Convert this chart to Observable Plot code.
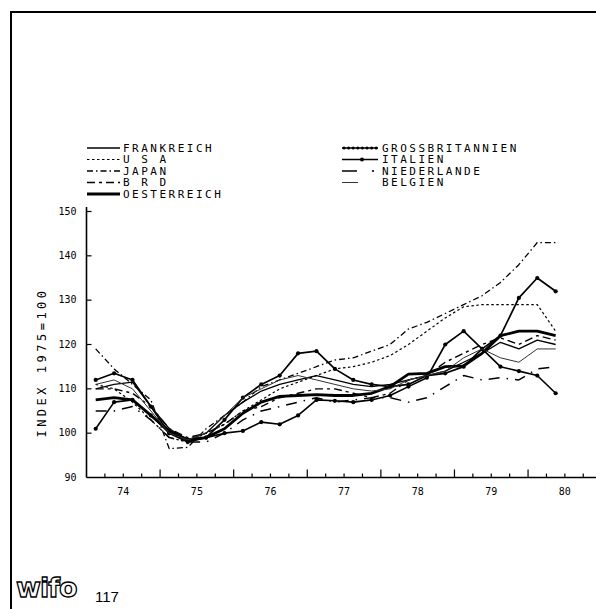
<!DOCTYPE html>
<html><head><meta charset="utf-8">
<script src="https://cdn.jsdelivr.net/npm/d3@7"></script>
<script src="https://cdn.jsdelivr.net/npm/@observablehq/plot@0.6"></script>
<style>
html,body{margin:0;padding:0;background:#fff;}
#wrap{position:relative;width:596px;height:609px;overflow:hidden;font-family:"DejaVu Sans Mono",monospace;}
#frame{position:absolute;left:10px;top:11px;width:620px;height:640px;border-top:2px solid #000;border-left:2px solid #000;box-sizing:border-box;}
#chart,#legend{position:absolute;left:0;top:0;}
#logo{position:absolute;left:16px;top:574px;font-family:"DejaVu Sans",sans-serif;font-weight:bold;font-size:27px;color:#fff;-webkit-text-stroke:1.3px #000;letter-spacing:-1px;line-height:1;}
#page{position:absolute;left:95px;top:589px;font-family:"Liberation Sans",sans-serif;font-size:15px;line-height:1;}
</style></head>
<body><div id="wrap"><div id="frame"></div><div id="chart"></div><svg id="legend" width="596" height="609"></svg><div id="logo">wifo</div><div id="page">117</div></div>
<script>
// ---- data (quarterly, index 1975=100) ----
const quarters = ["1974Q1","1974Q2","1974Q3","1974Q4","1975Q1","1975Q2","1975Q3","1975Q4",
  "1976Q1","1976Q2","1976Q3","1976Q4","1977Q1","1977Q2","1977Q3","1977Q4",
  "1978Q1","1978Q2","1978Q3","1978Q4","1979Q1","1979Q2","1979Q3","1979Q4","1980Q1","1980Q2"];
const frankreich      = [110,111,111.5,106,101,98.5,100,104,107,109.5,111,112,113,112,111,110.5,111,112,113,114,116,118,120.5,119,121,120];
const usa             = [111,110,107,103,99,98,100,102,105,107.5,110,111.5,113,114.5,115,116,117.5,120,123,126,128.5,129,129,129,129,123];
const japan           = [119,114.5,111,107.5,96.5,96.8,101,104,107,110.5,112,113.5,115,116.5,117,118.5,120,123.5,125,127,129,131,134,138,143,143];
const brd             = [110,110,109,106,101,99,100,102,105,106,108,109,110,110,109,108,109,112,113,116,118,120,121.5,120,122,121];
const oesterreich     = [107.5,108,107.5,104,100.5,98.5,99,101,104.5,107,108.3,108.5,108.7,108.5,108.5,109,110.5,113.3,113.5,115,115.2,118,122,123,123,122];
const grossbritannien = [101,107,107.5,104,100,98.5,99,100,100.5,102.5,102,104,107.5,107.3,107,107.5,108.5,110.5,112.5,120,123,119,115,114,113,109];
const italien         = [112,113.5,112,106,100,98,99,103,108,111,113,118,118.5,114.5,112,111,110.5,111,113,113.5,115,119,122,130.5,135,132];
const niederlande     = [105,105,106,103,99,98,98,100,103,105,106,107,108,107,107.5,108,108,107,108,110.5,113,112,112.5,112,114.5,115];
const belgien         = [111,112,110,105,100,98.5,100,104,108,110,112,113,112,111,110,109.5,110,112,113,114,117,119,117,116,119,119];

const seriesNames = ["FRANKREICH","U S A","JAPAN","B R D","OESTERREICH","GROSSBRITANNIEN","ITALIEN","NIEDERLANDE","BELGIEN"];
const seriesValues = [frankreich,usa,japan,brd,oesterreich,grossbritannien,italien,niederlande,belgien];
const yTicks = [90,100,110,120,130,140,150];
const yearLabels = ["74","75","76","77","78","79","80"];
const years = [1974,1975,1976,1977,1978,1979,1980];

// ---- styles ----
const styles = [
  {w:1.3, dash:null},
  {w:1.2, dash:"2.5,2.5"},
  {w:1.3, dash:"6,3,1.5,3"},
  {w:1.4, dash:"8,4,3,4"},
  {w:2.8, dash:null},
  {w:1.6, dash:null, dots:2.1},
  {w:1.7, dash:null, dots:2.1},
  {w:1.5, dash:"11,7,1.5,7"},
  {w:1.0, dash:null, stroke:"#333"}
];

const qx = q => +q.slice(0,4) + (+q.slice(5) - 0.5) / 4;
const X0 = 1974, X1 = 1980.93;
const pxPerYear = (596 - 86) / (X1 - X0);
const pxPerUnit = (477 - 211) / 60;

const marks = [];
seriesValues.forEach((vals, s) => {
  const data = vals.map((v, i) => ({t: qx(quarters[i]), v}));
  const st = styles[s];
  marks.push(Plot.line(data, {x:"t", y:"v", stroke: st.stroke || "#000", strokeWidth: st.w,
    strokeDasharray: st.dash || undefined, strokeLinejoin:"round", strokeLinecap:"butt"}));
  if (st.dots) marks.push(Plot.dot(data, {x:"t", y:"v", r: st.dots, fill:"#000", stroke:"none"}));
});

// axes
const qTicks = [];
for (let y = 1974; y <= 1980; y++) for (let q = 0; q < 4; q++) qTicks.push({t: y + q/4, major: q === 0});
const axisMarks = [
  Plot.link([0], {x1: () => X0, x2: () => X0, y1: () => 90, y2: () => 151, stroke:"#000", strokeWidth:1.6}),
  Plot.link([0], {x1: () => X0, x2: () => X1, y1: () => 90, y2: () => 90, stroke:"#000", strokeWidth:1.6}),
  Plot.link(yTicks.slice(1), {x1: () => X0, x2: () => X0 + 5/pxPerYear, y1: d => d, y2: d => d, stroke:"#000", strokeWidth:1.2}),
  Plot.link(qTicks.filter(d => d.t > X0), {x1:"t", x2:"t", y1: () => 90, y2: d => 90 + (d.major ? 8 : 4)/pxPerUnit, stroke:"#000", strokeWidth:1.2}),
  Plot.text(yTicks, {x: () => X0, y: d => d, text: d => String(d), dx: -10, textAnchor:"end",
    fontSize:10, fontFamily:"DejaVu Sans Mono", fill:"#000", style:"letter-spacing:1.6px"}),
  Plot.text(yearLabels, {x: (d, i) => years[i] + 0.5, y: () => 90, text: d => d, dy: 14,
    fontSize:10, fontFamily:"DejaVu Sans Mono", fill:"#000"}),
  Plot.text(["INDEX 1975=100"], {frameAnchor:"left", text: d => d, rotate:-90, dx:-44, dy:18, textAnchor:"middle",
    fontSize:12, fontFamily:"DejaVu Sans Mono", fill:"#000"})
];

const chart = Plot.plot({
  width:596, height:609, marginLeft:86, marginRight:0, marginTop:211, marginBottom:132,
  x:{domain:[X0, X1], axis:null},
  y:{domain:[90,150], axis:null},
  style:{background:"transparent", overflow:"visible"},
  marks:[...axisMarks, ...marks]
});
chart.querySelectorAll("text").forEach(t => {
  if (t.textContent.startsWith("INDEX")) t.setAttribute("letter-spacing","3.5");
});
document.getElementById("chart").appendChild(chart);

// ---- legend ----
const leg = d3.select("#legend");
const cols = [{x1:87, x2:120, tx:123}, {x1:342, x2:378, tx:382}];
const rowsY = [148, 159.5, 171, 182.5, 194];
seriesNames.forEach((name, i) => {
  const c = i < 5 ? cols[0] : cols[1];
  const y = rowsY[i < 5 ? i : i - 5];
  const st = styles[i];
  let x2 = c.x2;
  if (i === 7) x2 = c.x1 + 15;
  if (i === 8) x2 = c.x1 + 16;
  leg.append("line").attr("x1", c.x1).attr("x2", x2).attr("y1", y).attr("y2", y)
    .attr("stroke", st.stroke || "#000").attr("stroke-width", st.w)
    .attr("stroke-dasharray", i === 7 ? null : st.dash);
  if (i === 7) leg.append("circle").attr("cx", c.x1 + 31).attr("cy", y).attr("r", 1.1).attr("fill", "#000");
  if (i === 5) for (let k = 0; k < 8; k++) leg.append("circle").attr("cx", c.x1 + 2 + k*4.6).attr("cy", y).attr("r", 1.5).attr("fill", "#000");
  if (i === 6) leg.append("circle").attr("cx", c.x1 + 20).attr("cy", y).attr("r", 2).attr("fill", "#000");
  leg.append("text").attr("x", c.tx).attr("y", y).attr("dy", "0.36em")
    .attr("font-family", "DejaVu Sans Mono").attr("font-size", 11).attr("letter-spacing", 2.5)
    .text(name);
});
</script></body></html>
